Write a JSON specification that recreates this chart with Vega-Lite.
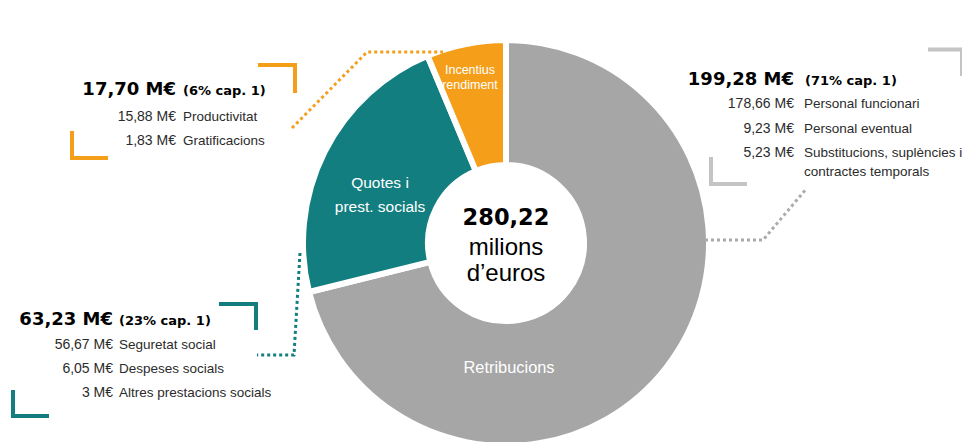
{
  "$schema": "https://vega.github.io/schema/vega-lite/v6.json",
  "width": 912,
  "height": 398,
  "padding": {"left": 50, "top": 44, "right": 0, "bottom": 0},
  "autosize": {"type": "none"},
  "background": "white",
  "config": {"view": {"stroke": null}},
  "datasets": {
    "slices": [
      {"cat": "Retribucions", "value": 199.28, "ord": 1},
      {"cat": "Quotes i prest. socials", "value": 63.23, "ord": 2},
      {"cat": "Incentius rendiment", "value": 17.70, "ord": 3}
    ],
    "sliceLabels": [
      {"kind": "ret", "x": 509, "y": 368, "text": "Retribucions"},
      {"kind": "quo", "x": 380, "y": 183, "text": "Quotes i\nprest. socials"},
      {"kind": "inc", "x": 470, "y": 70, "text": "Incentius\nrendiment"}
    ],
    "center": [
      {"kind": "num", "x": 506, "y": 225, "text": "280,22"},
      {"kind": "txt", "x": 506, "y": 255, "text": "milions"},
      {"kind": "txt", "x": 506, "y": 281, "text": "d’euros"}
    ],
    "notes": [
      {"style": "head", "x": 176, "y": 95, "text": "17,70 M€"},
      {"style": "sub", "x": 183, "y": 95, "text": "(6% cap. 1)"},
      {"style": "num", "x": 176, "y": 121, "text": "15,88 M€"},
      {"style": "lab", "x": 183, "y": 121, "text": "Productivitat"},
      {"style": "num", "x": 176, "y": 145, "text": "1,83 M€"},
      {"style": "lab", "x": 183, "y": 145, "text": "Gratificacions"},
      {"style": "head", "x": 794, "y": 85, "text": "199,28 M€"},
      {"style": "sub", "x": 805, "y": 85, "text": "(71% cap. 1)"},
      {"style": "num", "x": 794, "y": 108, "text": "178,66 M€"},
      {"style": "lab", "x": 804, "y": 108, "text": "Personal funcionari"},
      {"style": "num", "x": 794, "y": 133, "text": "9,23 M€"},
      {"style": "lab", "x": 804, "y": 133, "text": "Personal eventual"},
      {"style": "num", "x": 794, "y": 157, "text": "5,23 M€"},
      {"style": "lab", "x": 804, "y": 157, "text": "Substitucions, suplències i"},
      {"style": "lab", "x": 804, "y": 176, "text": "contractes temporals"},
      {"style": "head", "x": 113, "y": 325, "text": "63,23 M€"},
      {"style": "sub", "x": 119, "y": 325, "text": "(23% cap. 1)"},
      {"style": "num", "x": 113, "y": 349, "text": "56,67 M€"},
      {"style": "lab", "x": 119, "y": 349, "text": "Seguretat  social"},
      {"style": "num", "x": 113, "y": 373, "text": "6,05 M€"},
      {"style": "lab", "x": 119, "y": 373, "text": "Despeses socials"},
      {"style": "num", "x": 113, "y": 397, "text": "3 M€"},
      {"style": "lab", "x": 119, "y": 397, "text": "Altres prestacions socials"}
    ],
    "brackets": [
      {"seg": "inc-tr", "grp": "Incentius rendiment", "i": 0, "x": 258, "y": 65},
      {"seg": "inc-tr", "grp": "Incentius rendiment", "i": 1, "x": 295, "y": 65},
      {"seg": "inc-tr", "grp": "Incentius rendiment", "i": 2, "x": 295, "y": 93},
      {"seg": "inc-bl", "grp": "Incentius rendiment", "i": 0, "x": 72, "y": 131},
      {"seg": "inc-bl", "grp": "Incentius rendiment", "i": 1, "x": 72, "y": 158},
      {"seg": "inc-bl", "grp": "Incentius rendiment", "i": 2, "x": 108, "y": 158},
      {"seg": "ret-tr", "grp": "Retribucions", "i": 0, "x": 928, "y": 49.5},
      {"seg": "ret-tr", "grp": "Retribucions", "i": 1, "x": 962, "y": 49.5},
      {"seg": "ret-tr", "grp": "Retribucions", "i": 2, "x": 962, "y": 76},
      {"seg": "ret-bl", "grp": "Retribucions", "i": 0, "x": 711, "y": 157},
      {"seg": "ret-bl", "grp": "Retribucions", "i": 1, "x": 711, "y": 184},
      {"seg": "ret-bl", "grp": "Retribucions", "i": 2, "x": 747, "y": 184},
      {"seg": "quo-tr", "grp": "Quotes i prest. socials", "i": 0, "x": 219, "y": 304},
      {"seg": "quo-tr", "grp": "Quotes i prest. socials", "i": 1, "x": 256, "y": 304},
      {"seg": "quo-tr", "grp": "Quotes i prest. socials", "i": 2, "x": 256, "y": 330},
      {"seg": "quo-bl", "grp": "Quotes i prest. socials", "i": 0, "x": 13, "y": 390},
      {"seg": "quo-bl", "grp": "Quotes i prest. socials", "i": 1, "x": 13, "y": 416},
      {"seg": "quo-bl", "grp": "Quotes i prest. socials", "i": 2, "x": 49, "y": 416}
    ],
    "leaders": [
      {"grp": "Incentius rendiment", "i": 0, "x": 292, "y": 128},
      {"grp": "Incentius rendiment", "i": 1, "x": 367, "y": 52},
      {"grp": "Incentius rendiment", "i": 2, "x": 443, "y": 52},
      {"grp": "Retribucions", "i": 0, "x": 705, "y": 240},
      {"grp": "Retribucions", "i": 1, "x": 763, "y": 240},
      {"grp": "Retribucions", "i": 2, "x": 807, "y": 188},
      {"grp": "Quotes i prest. socials", "i": 0, "x": 300, "y": 253},
      {"grp": "Quotes i prest. socials", "i": 1, "x": 294, "y": 355},
      {"grp": "Quotes i prest. socials", "i": 2, "x": 257, "y": 355}
    ]
  },
  "layer": [
    {
      "data": {"name": "slices"},
      "mark": {"type": "arc", "outerRadius": 203, "innerRadius": 78, "stroke": "white", "strokeWidth": 6, "strokeJoin": "miter"},
      "encoding": {
        "theta": {"field": "value", "type": "quantitative", "stack": true},
        "order": {"field": "ord", "type": "quantitative"},
        "fill": {"field": "cat", "type": "nominal", "legend": null,
          "scale": {"domain": ["Retribucions", "Quotes i prest. socials", "Incentius rendiment"], "range": ["#a6a6a6", "#127e7f", "#f59e19"]}}
      }
    },
    {
      "data": {"name": "sliceLabels"},
      "transform": [{"filter": "datum.kind === 'ret'"}],
      "mark": {"type": "text", "font": "Liberation Sans", "fontSize": 16.4, "color": "white", "align": "center", "baseline": "middle"},
      "encoding": {
        "x": {"field": "x", "type": "quantitative", "scale": {"domain": [50, 962], "nice": false, "zero": false}, "axis": null},
        "y": {"field": "y", "type": "quantitative", "scale": {"domain": [44, 442], "nice": false, "zero": false, "reverse": true}, "axis": null},
        "text": {"field": "text"}
      }
    },
    {
      "data": {"name": "sliceLabels"},
      "transform": [{"filter": "datum.kind === 'quo'"}],
      "mark": {"type": "text", "font": "Liberation Sans", "fontSize": 15.5, "color": "white", "align": "center", "baseline": "middle", "lineBreak": "\n", "lineHeight": 24},
      "encoding": {
        "x": {"field": "x", "type": "quantitative", "axis": null},
        "y": {"field": "y", "type": "quantitative", "axis": null},
        "text": {"field": "text"}
      }
    },
    {
      "data": {"name": "sliceLabels"},
      "transform": [{"filter": "datum.kind === 'inc'"}],
      "mark": {"type": "text", "font": "Liberation Sans", "fontSize": 12.5, "color": "white", "align": "center", "baseline": "middle", "lineBreak": "\n", "lineHeight": 15},
      "encoding": {
        "x": {"field": "x", "type": "quantitative", "axis": null},
        "y": {"field": "y", "type": "quantitative", "axis": null},
        "text": {"field": "text"}
      }
    },
    {
      "data": {"name": "center"},
      "transform": [{"filter": "datum.kind === 'num'"}],
      "mark": {"type": "text", "font": "DejaVu Sans", "fontWeight": "bold", "fontSize": 22.5, "color": "black", "align": "center", "baseline": "alphabetic"},
      "encoding": {
        "x": {"field": "x", "type": "quantitative", "axis": null},
        "y": {"field": "y", "type": "quantitative", "axis": null},
        "text": {"field": "text"}
      }
    },
    {
      "data": {"name": "center"},
      "transform": [{"filter": "datum.kind === 'txt'"}],
      "mark": {"type": "text", "font": "Liberation Sans", "fontSize": 24, "color": "black", "align": "center", "baseline": "alphabetic"},
      "encoding": {
        "x": {"field": "x", "type": "quantitative", "axis": null},
        "y": {"field": "y", "type": "quantitative", "axis": null},
        "text": {"field": "text"}
      }
    },
    {
      "data": {"name": "notes"},
      "transform": [{"filter": "datum.style === 'head'"}],
      "mark": {"type": "text", "font": "DejaVu Sans", "fontWeight": "bold", "fontSize": 18, "color": "black", "align": "right", "baseline": "alphabetic"},
      "encoding": {
        "x": {"field": "x", "type": "quantitative", "axis": null},
        "y": {"field": "y", "type": "quantitative", "axis": null},
        "text": {"field": "text"}
      }
    },
    {
      "data": {"name": "notes"},
      "transform": [{"filter": "datum.style === 'sub'"}],
      "mark": {"type": "text", "font": "DejaVu Sans", "fontWeight": "bold", "fontSize": 13, "color": "black", "align": "left", "baseline": "alphabetic"},
      "encoding": {
        "x": {"field": "x", "type": "quantitative", "axis": null},
        "y": {"field": "y", "type": "quantitative", "axis": null},
        "text": {"field": "text"}
      }
    },
    {
      "data": {"name": "notes"},
      "transform": [{"filter": "datum.style === 'num'"}],
      "mark": {"type": "text", "font": "Liberation Sans", "fontSize": 14, "color": "#2b2b2b", "align": "right", "baseline": "alphabetic"},
      "encoding": {
        "x": {"field": "x", "type": "quantitative", "axis": null},
        "y": {"field": "y", "type": "quantitative", "axis": null},
        "text": {"field": "text"}
      }
    },
    {
      "data": {"name": "notes"},
      "transform": [{"filter": "datum.style === 'lab'"}],
      "mark": {"type": "text", "font": "Liberation Sans", "fontSize": 13.5, "color": "#2b2b2b", "align": "left", "baseline": "alphabetic"},
      "encoding": {
        "x": {"field": "x", "type": "quantitative", "axis": null},
        "y": {"field": "y", "type": "quantitative", "axis": null},
        "text": {"field": "text"}
      }
    },
    {
      "data": {"name": "brackets"},
      "mark": {"type": "line", "strokeWidth": 4, "strokeCap": "butt", "strokeJoin": "miter"},
      "encoding": {
        "x": {"field": "x", "type": "quantitative", "axis": null},
        "y": {"field": "y", "type": "quantitative", "axis": null},
        "detail": {"field": "seg"},
        "order": {"field": "i", "type": "quantitative"},
        "stroke": {"field": "grp", "type": "nominal", "legend": null,
          "scale": {"domain": ["Retribucions", "Quotes i prest. socials", "Incentius rendiment"], "range": ["#c4c4c4", "#127e7f", "#f59e19"]}}
      }
    },
    {
      "data": {"name": "leaders"},
      "mark": {"type": "line", "strokeWidth": 3, "strokeDash": [3, 3], "strokeCap": "butt"},
      "encoding": {
        "x": {"field": "x", "type": "quantitative", "axis": null},
        "y": {"field": "y", "type": "quantitative", "axis": null},
        "detail": {"field": "grp"},
        "order": {"field": "i", "type": "quantitative"},
        "color": {"field": "grp", "type": "nominal", "legend": null,
          "scale": {"domain": ["Retribucions", "Quotes i prest. socials", "Incentius rendiment"], "range": ["#aaaaaa", "#127e7f", "#f59e19"]}}
      }
    }
  ]
}
